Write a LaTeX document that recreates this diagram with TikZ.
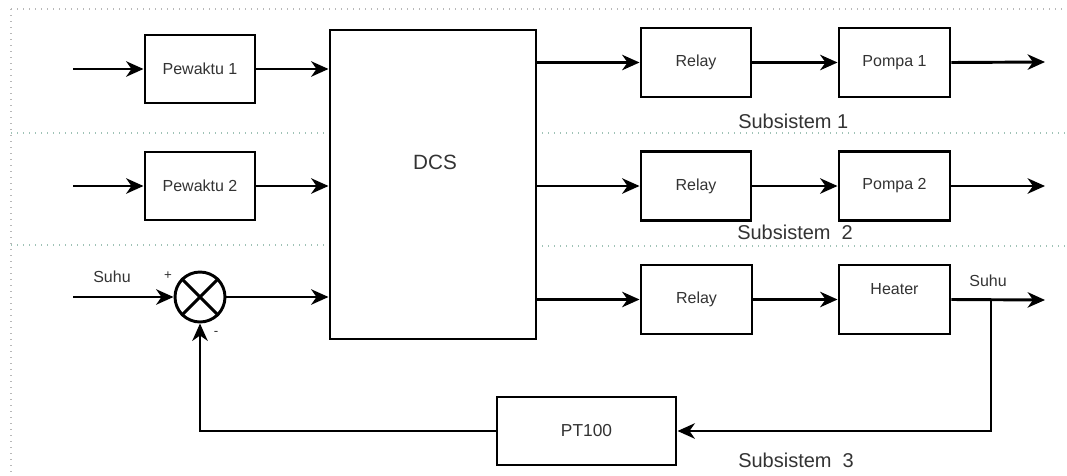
\documentclass[tikz,border=0pt]{standalone}
\usepackage{fontspec}
\setmainfont{Liberation Sans}
\usetikzlibrary{arrows.meta,calc}

\definecolor{txt}{HTML}{333333}
\definecolor{frame}{HTML}{B8B8B8}
\definecolor{sep}{HTML}{9FC2B6}

\tikzset{
  blk/.style={draw=black, line width=2.2pt, fill=white, inner sep=0pt,
              font=\fontsize{12}{14}\selectfont, text=txt},
  lbl/.style={inner sep=0pt, text=txt, font=\fontsize{12}{14}\selectfont},
  sub/.style={inner sep=0pt, text=txt, font=\fontsize{15}{18}\selectfont, anchor=west},
  sig/.style={line width=2.2pt, -{Stealth[length=13pt, width=11.5pt, inset=4pt]}},
  wire/.style={line width=2.2pt},
  border/.style={draw=frame, line width=1.1pt, dash pattern=on 1.1pt off 3.4pt},
  divider/.style={draw=sep, line width=1.1pt, dash pattern=on 1.1pt off 3.4pt},
}

\begin{document}
\begin{tikzpicture}[x=0.75pt, y=-0.75pt]
\useasboundingbox (0,0) rectangle (1067,475);

% frame of the three subsystems
\draw[border] (11,9) -- (1067,9);
\draw[border] (11,9) -- (11,475);
\draw[divider] (11,133) -- (330,133);
\draw[divider] (536,133) -- (1067,133);
\draw[divider] (11,245) -- (330,245);
\draw[divider] (536,246) -- (1067,246);

% blocks
\node[blk, minimum width=82.5pt, minimum height=51pt] (p1) at (200,69) {Pewaktu 1};
\node[blk, minimum width=82.5pt, minimum height=51pt] (p2) at (200,186) {Pewaktu 2};
\node[blk, minimum width=154.5pt, minimum height=231.75pt] (dcs) at (433,184.5) {};
\node[inner sep=0pt, text=txt, font=\fontsize{15.5}{18}\selectfont] (dcslbl) at (435,162) {DCS};

\node[blk, minimum width=82.5pt, minimum height=51.75pt] (r1) at (696,62.5) {Relay};
\node[blk, minimum width=83.25pt, minimum height=51.75pt] (pm1) at (894.5,62.5) {Pompa 1};
\node[blk, minimum width=82.5pt, minimum height=51.75pt] (r2) at (696,186) {Relay};
\node[blk, minimum width=83.25pt, minimum height=51.75pt] (pm2) at (894.5,186) {Pompa 2};
\node[blk, minimum width=83.25pt, minimum height=51.75pt] (r3) at (696.5,299.5) {Relay};
\node[blk, minimum width=83.25pt, minimum height=51.75pt] (heat) at (894.5,299.5) {};
\node[lbl] (heatlbl) at (894.5,289) {Heater};
\node[blk, minimum width=134.25pt, minimum height=51pt, font=\fontsize{13}{15}\selectfont] (pt) at (586.5,431) {PT100};

% summing junction
\node[draw=black, line width=2.2pt, circle, minimum size=37.5pt, inner sep=0pt] (sum) at (200,297) {};
\draw[wire] (sum.45) -- (sum.225);
\draw[wire] (sum.135) -- (sum.315);

% free ends of the signals
\coordinate (in1) at (73,69);
\coordinate (in2) at (73,186);
\coordinate (in3) at (73,297);
\coordinate (out1) at (1045,62);
\coordinate (out2) at (1045,186);
\coordinate (out3) at (1045,300);
\coordinate (tap) at (991,300);
\coordinate (fb) at (200,431);

% inputs to the DCS
\draw[sig] (in1) -- (p1.west);
\draw[sig] (p1.east) -- (p1.east -| dcs.west);
\draw[sig] (in2) -- (p2.west);
\draw[sig] (p2.east) -- (p2.east -| dcs.west);
\draw[sig] (in3) -- (sum.west);
\draw[sig] (sum.east) -- (sum.east -| dcs.west);

% outputs of the DCS
\draw[sig] (r1.west -| dcs.east) -- (r1.west);
\draw[sig] (r1.east) -- (pm1.west);
\draw[sig] (pm1.east) -- (out1);
\draw[sig] (r2.west -| dcs.east) -- (r2.west);
\draw[sig] (r2.east) -- (pm2.west);
\draw[sig] (pm2.east) -- (out2);
\draw[sig] (r3.west -| dcs.east) -- (r3.west);
\draw[sig] (r3.east) -- (heat.west);
\draw[sig] (heat.east) -- (out3);

% temperature feedback loop
\draw[sig] (tap) |- (pt.east);
\draw[sig] (pt.west) -- (fb) -- (sum.south);

% signal labels
\node[lbl] (suhuin) at (112,277) {Suhu};
\node[lbl, font=\fontsize{10}{12}\selectfont] (plus) at (168,276) {+};
\node[lbl, font=\fontsize{10}{12}\selectfont] (minus) at (216,333) {-};
\node[lbl] (suhuout) at (988,281) {Suhu};

% subsystem captions
\node[sub] (s1) at (738,121) {Subsistem 1};
\node[sub] (s2) at (737,232) {Subsistem\ \ 2};
\node[sub] (s3) at (738,460) {Subsistem\ \ 3};
\end{tikzpicture}
\end{document}
